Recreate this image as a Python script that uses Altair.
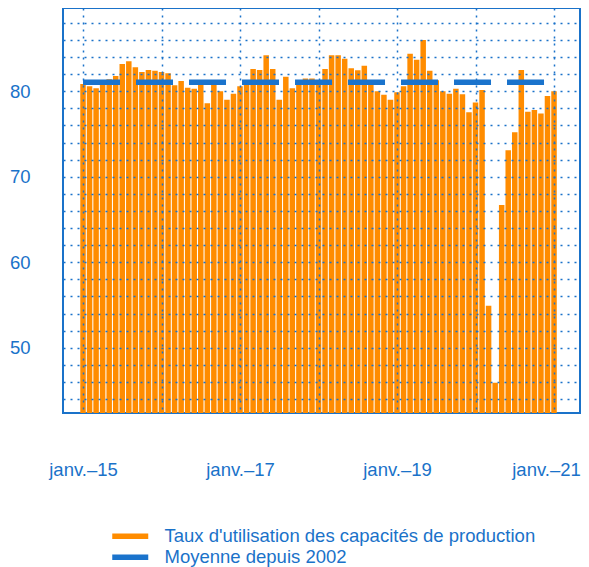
import altair as alt
import pandas as pd

# Monthly capacity utilisation rate, Jan 2015 .. Jan 2021
start_year = 2015
taux = [
    80.85, 80.6, 80.35, 81.0, 81.4, 81.8, 83.2, 83.5, 82.8, 82.25, 82.5, 82.4,   # 2015
    82.25, 82.1, 80.7, 81.2, 80.4, 80.3, 80.8, 78.6, 80.8, 80.0, 79.0, 79.7,     # 2016
    80.6, 81.2, 82.6, 82.5, 84.2, 82.6, 79.0, 81.7, 80.35, 81.3, 81.5, 81.5,     # 2017
    81.0, 82.6, 84.2, 84.2, 83.8, 82.7, 82.45, 83.0, 80.8, 80.0, 79.6, 79.0,     # 2018
    79.9, 80.6, 84.4, 83.7, 86.0, 82.4, 81.3, 80.0, 79.7, 80.3, 79.65, 77.55,    # 2019
    78.7, 80.15, 54.9, 45.9, 66.7, 73.1, 75.2, 82.5, 77.6, 77.8, 77.4, 79.45,    # 2020
    80.0,                                                                        # 2021
]
moyenne = 81.05
moyenne_span = [2015, 2021]
series_names = ["Taux d'utilisation des capacités de production", "Moyenne depuis 2002"]
series_colors = ["#ff8c00", "#1a73cc"]
y_ticks = [44, 46, 48, 50, 52, 54, 56, 58, 60, 62, 64, 66, 68, 70, 72, 74, 76, 78, 80, 82, 84, 86, 88]
x_ticks = [2015, 2016, 2017, 2018, 2019, 2020, 2021]

BLUE = "#1a72c9"
FONT = "Liberation Sans"

bars_df = pd.DataFrame({
    "t": [start_year + i / 12 for i in range(len(taux))],
    "v": taux,
    "serie": series_names[0],
})
line_df = pd.DataFrame({
    "t": moyenne_span,
    "v": [moyenne] * len(moyenne_span),
    "serie": series_names[1],
})

x_scale = alt.Scale(domain=[2014.745, 2021.331], nice=False, zero=False, padding=0)
y_scale = alt.Scale(domain=[42.37, 89.74], nice=False, zero=False, padding=0)

legend = alt.Legend(
    title=None,
    orient="none",
    legendX=45,
    legendY=519,
    direction="vertical",
    labelFont=FONT,
    labelFontSize=18.5,
    labelColor=BLUE,
    labelOffset=38,
    labelLimit=500,
    symbolType="M-1,0H6.2",
    symbolSize=100,
    symbolStrokeWidth=5.5,
    symbolOpacity=1,
    rowPadding=-4,
    padding=0,
)

color = alt.Color(
    "serie:N",
    scale=alt.Scale(domain=series_names, range=series_colors),
    legend=legend,
)

x_axis = alt.Axis(
    values=x_ticks,
    labelExpr="datum.value % 2 == 1 ? 'janv.–' + (datum.value - 2000) : ''",
    grid=True,
    gridDash=[2, 5],
    gridColor=BLUE,
    gridWidth=1.5,
    gridOpacity=1,
    ticks=False,
    domain=False,
    labelFont=FONT,
    labelFontSize=18.5,
    labelColor=BLUE,
    labelPadding=47,
    labelOffset={"condition": {"test": "datum.value == 2021", "value": -8}, "value": 0},
    labelFlush=False,
    labelOverlap=False,
    title=None,
    zindex=1,
)
y_axis = alt.Axis(
    values=y_ticks,
    tickCount=50,
    labelExpr="datum.value % 10 == 0 ? datum.label : ''",
    grid=True,
    gridDash=[2, 5],
    gridColor=BLUE,
    gridWidth=1.5,
    gridOpacity=1,
    ticks=False,
    domain=False,
    labelFont=FONT,
    labelFontSize=18.5,
    labelColor=BLUE,
    labelPadding=33,
    labelOverlap=False,
    title=None,
    zindex=1,
)

bars = alt.Chart(bars_df).mark_bar(width=5.5, clip=True).encode(
    x=alt.X("t:Q", scale=x_scale, axis=x_axis),
    y=alt.Y("v:Q", scale=y_scale, axis=y_axis),
    y2=alt.Y2Datum(0),
    color=color,
)

line = alt.Chart(line_df).mark_line(
    strokeWidth=5.5, strokeDash=[37, 16], strokeCap="butt", clip=True
).encode(
    x=alt.X("t:Q", scale=x_scale),
    y=alt.Y("v:Q", scale=y_scale),
    color=color,
)

chart = alt.layer(bars, line).properties(
    width=517,
    height=405,
    autosize=alt.AutoSizeParams(type="none"),
    padding={"left": 55, "top": 0, "right": 1, "bottom": 154},
).configure_view(
    stroke=BLUE, strokeWidth=2
)

chart.save("out.html", embed_options={"renderer": "svg", "actions": False})
